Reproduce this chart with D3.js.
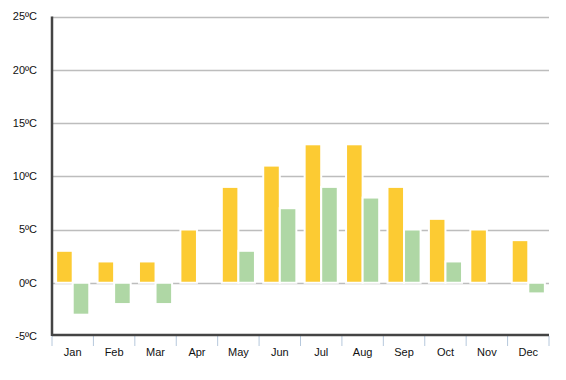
<!DOCTYPE html>
<html><head><meta charset="utf-8">
<script src="https://cdn.jsdelivr.net/npm/d3@7"></script>
<style>body{margin:0;background:#fff}svg{display:block}text{font-family:"Liberation Sans",Arial,sans-serif}</style>
</head><body><svg id="c" width="566" height="380"></svg>
<script>
const months = ["Jan","Feb","Mar","Apr","May","Jun","Jul","Aug","Sep","Oct","Nov","Dec"];
const maxTemps = [3,2,2,5,9,11,13,13,9,6,5,4];
const minTemps = [-3,-2,-2,0,3,7,9,8,5,2,0,-1];
const yTicks = [-5,0,5,10,15,20,25];
const seriesKeys = ["max","min"];
const seriesColors = ["#fccb33","#afd7a5"];

const svg = d3.select("#c");
const L = 52, R = 549, T = 16.5, B = 336;
const x0 = d3.scaleBand().domain(months).range([L,R]).paddingInner(0.2).paddingOuter(0.1);
const x1 = d3.scaleBand().domain(seriesKeys).range([0,x0.bandwidth()]).padding(0);
const y = d3.scaleLinear().domain([-5,25]).range([B,T]);
const color = d3.scaleOrdinal().domain(seriesKeys).range(seriesColors);

// grid
svg.append("g").selectAll("line").data(yTicks.filter(d=>d>-5)).join("line")
  .attr("x1",L).attr("x2",R).attr("y1",d=>Math.round(y(d))+0.5).attr("y2",d=>Math.round(y(d))+0.5)
  .attr("stroke","#bdbdbd").attr("stroke-width",1.3);

// y labels
svg.append("g").selectAll("text").data(yTicks).join("text")
  .attr("x",37).attr("y",d=>y(d)).attr("dy","0.35em").attr("text-anchor","end")
  .attr("font-size",11).attr("fill","#111").text(d=>d+"ºC");

// bars
const data = months.map((m,i)=>({m, vals:[{k:"max",v:maxTemps[i]},{k:"min",v:minTemps[i]}]}));
svg.append("g").selectAll("g").data(data).join("g")
  .attr("transform",d=>`translate(${x0(d.m)},0)`)
  .selectAll("rect").data(d=>d.vals.filter(o=>o.v!==0)).join("rect")
  .attr("x",d=>x1(d.k)).attr("width",x1.bandwidth())
  .attr("y",d=>y(Math.max(0,d.v))).attr("height",d=>Math.abs(y(d.v)-y(0)))
  .attr("fill",d=>color(d.k)).attr("stroke","#fff").attr("stroke-width",2);

// x ticks at band boundaries
const step = x0.step();
const bounds = d3.range(13).map(i=>L+i*step);
svg.append("g").selectAll("line").data(bounds).join("line")
  .attr("x1",d=>d).attr("x2",d=>d).attr("y1",B).attr("y2",B+10)
  .attr("stroke","#b6c8dc").attr("stroke-width",1);

// axes lines
svg.append("line").attr("x1",L).attr("x2",R).attr("y1",B-1).attr("y2",B-1).attr("stroke","#444").attr("stroke-width",2.5);
svg.append("line").attr("x1",L).attr("x2",L).attr("y1",T).attr("y2",B).attr("stroke","#444").attr("stroke-width",2.5);

// x labels
svg.append("g").selectAll("text").data(months).join("text")
  .attr("x",d=>x0(d)+x0.bandwidth()/2).attr("y",356).attr("text-anchor","middle")
  .attr("font-size",11).attr("fill","#111").text(d=>d);
</script></body></html>
